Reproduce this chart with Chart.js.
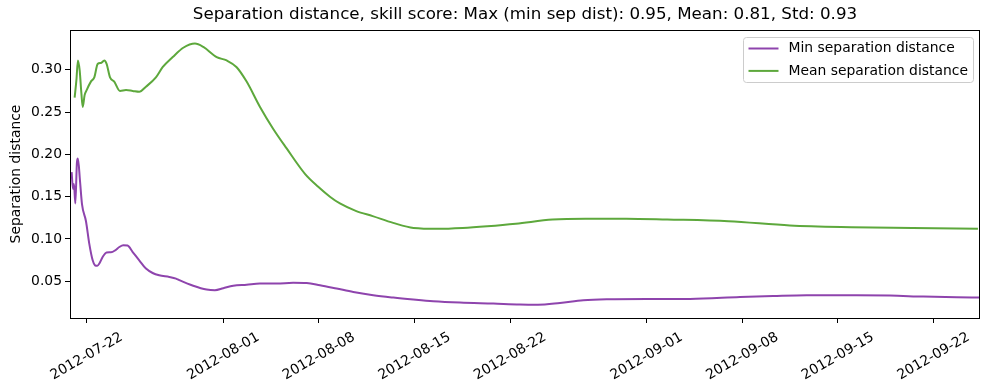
<!DOCTYPE html>
<html>
<head>
<meta charset="utf-8">
<script src="https://cdn.jsdelivr.net/npm/chart.js@4.4.0/dist/chart.umd.min.js"></script>
<style>
  html, body { margin: 0; padding: 0; background: #fff; }
</style>
</head>
<body>
<canvas id="sepChart" width="989" height="390"></canvas>
<script>
// x values are days since 2012-07-22 00:00
const minDays = [-1.10, -1.00, -0.93, -0.83, -0.71, -0.64, -0.49, -0.34, -0.05, 0.19, 0.44, 0.61, 0.78, 0.94,
  1.17, 1.46, 1.78, 2.09, 2.39, 2.68, 2.99, 3.37, 3.85, 4.34, 4.83, 5.31, 6.05, 6.54, 6.83, 7.80, 8.78, 9.39,
  10.00, 10.73, 11.71, 12.68, 13.91, 15.12, 16.11, 17.08, 18.30, 19.52, 20.98, 22.45, 23.91, 25.37, 27.33,
  29.77, 31.72, 33.04, 34.65, 36.36, 38.07, 41.00, 44.17, 47.83, 50.26, 52.71, 56.37, 58.81, 61.25, 63.69, 65.36];
const minValues = [0.179, 0.159, 0.165, 0.142, 0.191, 0.195, 0.169, 0.141, 0.121, 0.0946, 0.0748, 0.0689, 0.0683, 0.0713,
  0.0787, 0.0840, 0.0843, 0.0866, 0.0905, 0.0926, 0.0922, 0.0846, 0.0748, 0.0650, 0.0598, 0.0571, 0.0551, 0.0532, 0.0510, 0.0447, 0.0402, 0.0394,
  0.0418, 0.0447, 0.0459, 0.0473, 0.0473, 0.0483, 0.0480, 0.0453, 0.0414, 0.0374, 0.0335, 0.0307, 0.0284, 0.0264, 0.0248,
  0.0236, 0.0225, 0.0223, 0.0244, 0.0275, 0.0287, 0.0291, 0.0291, 0.0314, 0.0326, 0.0335, 0.0335, 0.0331, 0.0319, 0.0311, 0.0307];

const meanDays = [-0.88, -0.75, -0.64, -0.51, -0.39, -0.29, -0.15, 0, 0.31, 0.56, 0.81, 1.05, 1.29, 1.46, 1.71,
  2.02, 2.44, 2.88, 3.37, 3.85, 4.34, 5.07, 5.56, 6.30, 7.07, 7.93, 8.54, 9.52, 10.25, 10.98, 11.71, 12.69,
  13.66, 14.64, 15.98, 16.93, 17.81, 18.54, 19.74, 20.94, 22.44, 23.93, 25.73, 27.53, 29.32, 31.42, 34.11,
  36.51, 39.50, 42.50, 46.98, 51.48, 55.97, 60.46, 65.25];
const meanValues = [0.267, 0.288, 0.311, 0.299, 0.273, 0.256, 0.270, 0.276, 0.286, 0.291, 0.307, 0.308, 0.311, 0.307, 0.291,
  0.286, 0.275, 0.276, 0.275, 0.274, 0.280, 0.291, 0.303, 0.315, 0.326, 0.331, 0.327, 0.315, 0.311, 0.303, 0.286, 0.256,
  0.230, 0.207, 0.177, 0.162, 0.150, 0.142, 0.133, 0.127, 0.119, 0.113, 0.112, 0.113, 0.115, 0.118, 0.123,
  0.124, 0.124, 0.123, 0.121, 0.116, 0.114, 0.113, 0.112];

const tickDays = [0, 10, 17, 24, 31, 41, 48, 55, 62];
const tickLabels = ['2012-07-22', '2012-08-01', '2012-08-08', '2012-08-15', '2012-08-22',
  '2012-09-01', '2012-09-08', '2012-09-15', '2012-09-22'];
const yTicks = [0.05, 0.10, 0.15, 0.20, 0.25, 0.30];

const titleText = 'Separation distance, skill score: Max (min sep dist): 0.95, Mean: 0.81, Std: 0.93';
const seriesNames = ['Min separation distance', 'Mean separation distance'];
const seriesColors = ['#8e44ad', '#5da83c'];

function toPoints(xs, ys) {
  return xs.map((x, i) => ({ x: x, y: ys[i] }));
}

// title over the axes, axes frame, matplotlib style legend box
const framePlugin = {
  id: 'frame',
  afterDraw(chart) {
    const ctx = chart.ctx;
    const a = chart.chartArea;
    ctx.save();
    ctx.fillStyle = '#000';
    ctx.font = '16.7px "DejaVu Sans"';
    ctx.textAlign = 'center';
    ctx.textBaseline = 'middle';
    ctx.fillText(titleText, (a.left + a.right) / 2, 15);

    ctx.strokeStyle = '#000';
    ctx.lineWidth = 1;
    ctx.strokeRect(a.left + 0.5, a.top + 0.5, a.right - a.left - 1, a.bottom - a.top);

    const bx = a.right - 236.5, by = a.top + 7.5, bw = 230, bh = 45;
    ctx.beginPath();
    ctx.roundRect(bx, by, bw, bh, 3);
    ctx.fillStyle = 'rgba(255,255,255,0.8)';
    ctx.fill();
    ctx.strokeStyle = '#cccccc';
    ctx.stroke();

    ctx.font = '13.9px "DejaVu Sans"';
    ctx.textAlign = 'left';
    ctx.fillStyle = '#000';
    seriesNames.forEach((name, i) => {
      const ly = by + 11 + i * 22.4;
      ctx.beginPath();
      ctx.moveTo(bx + 5, ly);
      ctx.lineTo(bx + 35, ly);
      ctx.strokeStyle = seriesColors[i];
      ctx.lineWidth = 2;
      ctx.stroke();
      ctx.fillText(name, bx + 45, ly);
    });
    ctx.restore();
  }
};

Chart.defaults.font.family = '"DejaVu Sans"';
Chart.defaults.color = '#000';

new Chart(document.getElementById('sepChart'), {
  type: 'line',
  data: {
    datasets: [
      {
        label: seriesNames[0],
        data: toPoints(minDays, minValues),
        borderColor: seriesColors[0],
        borderWidth: 2,
        pointRadius: 0,
        cubicInterpolationMode: 'monotone'
      },
      {
        label: seriesNames[1],
        data: toPoints(meanDays, meanValues),
        borderColor: seriesColors[1],
        borderWidth: 2,
        pointRadius: 0,
        cubicInterpolationMode: 'monotone'
      }
    ]
  },
  options: {
    responsive: false,
    animation: false,
    devicePixelRatio: 1,
    layout: { padding: { left: 0, right: 9, top: 30, bottom: 0 } },
    plugins: {
      legend: { display: false },
      tooltip: { enabled: false },
      title: { display: false }
    },
    scales: {
      x: {
        type: 'linear',
        min: -1.22,
        max: 65.4,
        afterBuildTicks(scale) {
          scale.ticks = tickDays.map(v => ({ value: v }));
        },
        afterFit(scale) { scale.height = 72; },
        grid: { display: true, drawOnChartArea: false, tickLength: 5, color: '#000' },
        border: { display: false },
        ticks: {
          autoSkip: false,
          maxRotation: 30,
          minRotation: 30,
          labelOffset: 35,
          padding: 6,
          font: { size: 13.9 },
          color: '#000',
          callback: (value) => tickLabels[tickDays.indexOf(value)]
        }
      },
      y: {
        min: 0.0066,
        max: 0.347,
        afterBuildTicks(scale) {
          scale.ticks = yTicks.map(v => ({ value: v }));
        },
        afterFit(scale) { scale.width = 70; },
        grid: { display: true, drawOnChartArea: false, tickLength: 5, color: '#000' },
        border: { display: false },
        title: {
          display: true,
          text: 'Separation distance',
          font: { size: 13.9 },
          color: '#000',
          padding: { top: 8, bottom: 0 }
        },
        ticks: {
          padding: 3,
          font: { size: 13.9 },
          color: '#000',
          callback: (value) => value.toFixed(2)
        }
      }
    }
  },
  plugins: [framePlugin]
});
</script>
</body>
</html>
